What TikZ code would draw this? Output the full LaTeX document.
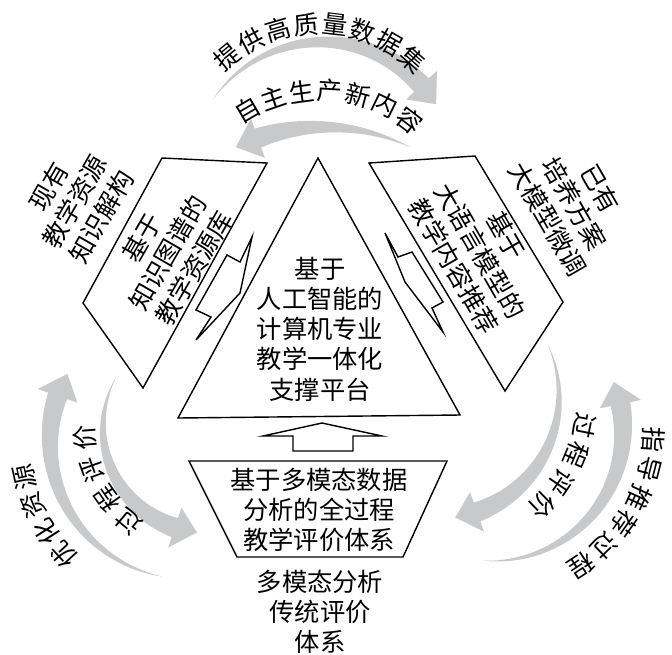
\documentclass[tikz,border=0pt]{standalone}
\usepackage{fontspec}
\setmainfont{Noto Sans CJK SC}
\usetikzlibrary{arrows.meta, positioning, calc}
\definecolor{cband}{HTML}{C8C9CA}
\tikzset{
  every picture/.style={line width=1pt, x=0.025cm, y=-0.025cm},
  txt/.style={font=\fontsize{18}{21.5}\selectfont, align=center, inner sep=0pt},
  frame/.style={draw=black, fill=white, line width=1pt, line join=miter},
  band/.style={fill=cband, draw=none},
}
% tapered grey arc: centre x, centre y, radius, tail angle, head base angle, tip angle
\newcommand\grayband[6]{%
  \fill[band] plot[domain=#4:#5, samples=50]
      ({#1+(#3+10*(\x-(#4))/((#5)-(#4)))*cos(\x)}, {#2+(#3+10*(\x-(#4))/((#5)-(#4)))*sin(\x)})
    -- ({#1+(#3+21)*cos(#5)}, {#2+(#3+21)*sin(#5)})
    -- ({#1+#3*cos(#6)}, {#2+#3*sin(#6)})
    -- ({#1+(#3-21)*cos(#5)}, {#2+(#3-21)*sin(#5)})
    -- plot[domain=#5:#4, samples=50]
      ({#1+(#3-10*(\x-(#4))/((#5)-(#4)))*cos(\x)}, {#2+(#3-10*(\x-(#4))/((#5)-(#4)))*sin(\x)})
    -- cycle;}
% text set along a circle: name, centre x, centre y, radius, first angle, step, characters
\newcommand\arctext[7]{%
  \foreach \ch [count=\i from 0] in {#7} {%
    \pgfmathsetmacro\ang{#5+\i*(#6)}%
    \node[txt, rotate={-(\ang)-90}] (#1\i) at ({#2+#4*cos(\ang)},{#3+#4*sin(\ang)}) {\ch};}}
\begin{document}
\begin{tikzpicture}
  \useasboundingbox (0,0) rectangle (672,654);
  % grey cycle arrows
  \grayband{323}{176}{134}{-145.5}{-42.7}{-32.4}
  \grayband{323}{325}{198}{-63.9}{-109.2}{-116.1}
  \grayband{188}{441}{138}{100.4}{199.1}{209.1}
  \grayband{208}{428}{105}{209.3}{108.4}{96}
  \grayband{436}{396}{123}{-24.5}{70.5}{81}
  \grayband{492}{430}{131}{94}{-11.4}{-21.5}
  % labels on the arcs
  \arctext{top}{318}{168}{144}{-129.3}{11.5}{提,供,高,质,量,数,据,集}
  \arctext{mid}{321}{236}{146}{-120.4}{11.3}{自,主,生,产,新,内,容}
  \arctext{lo}{188}{441}{168}{137.4}{10}{优,化,资,源}
  \arctext{li}{208}{428}{123}{130}{15.1}{过,程,评,价}
  \arctext{ri}{436}{396}{152}{11.2}{11.6}{过,程,评,价}
  \arctext{ro}{492}{430}{162}{3.5}{10.6}{指,导,推,荐,过,程}
  % platform
  \draw[frame] (318,158) -- (178,418) -- (460,415) -- cycle;
  \node[txt] (core) at (320,329) {基于\\人工智能的\\计算机专业\\教学一体化\\支撑平台};
  % knowledge graph side
  \draw[frame] (162,158) -- (267,163) -- (143,388) -- (83,303) -- cycle;
  \node[txt, rotate=60] (kg) at (168,253) {基于\\知识图谱的\\教学资源库};
  \node[txt, rotate=60] (kgin) at (75,202) {现有\\教学资源\\知识解构};
  \draw[frame] (252,237) -- (240,262) -- (227,255) -- (196,310) -- (211,317)
    -- (196,340) -- (240,293) -- cycle;
  % language model side
  \draw[frame] (369,163) -- (475,156) -- (563,302) -- (505,391) -- cycle;
  \node[txt, rotate=-60] (llm) at (480,251) {基于\\大语言模型的\\教学内容推荐};
  \node[txt, rotate=-60] (llmin) at (574,204) {已有\\培养方案\\大模型微调};
  \draw[frame] (385,233) -- (398,257) -- (412,252) -- (443,302) -- (432,308)
    -- (443,332) -- (405,282) -- cycle;
  % evaluation
  \draw[frame] (293,451) -- (293,436) -- (263,436) -- (322,423) -- (382,436)
    -- (353,436) -- (353,451) -- cycle;
  \draw[frame] (189,461) -- (447,461) -- (403,557) -- (237,557) -- cycle;
  \node[txt] (eval) at (319,510) {基于多模态数据\\分析的全过程\\教学评价体系};
  \node[txt] (evalin) at (320,612) {多模态分析\\传统评价\\体系};
\end{tikzpicture}
\end{document}
